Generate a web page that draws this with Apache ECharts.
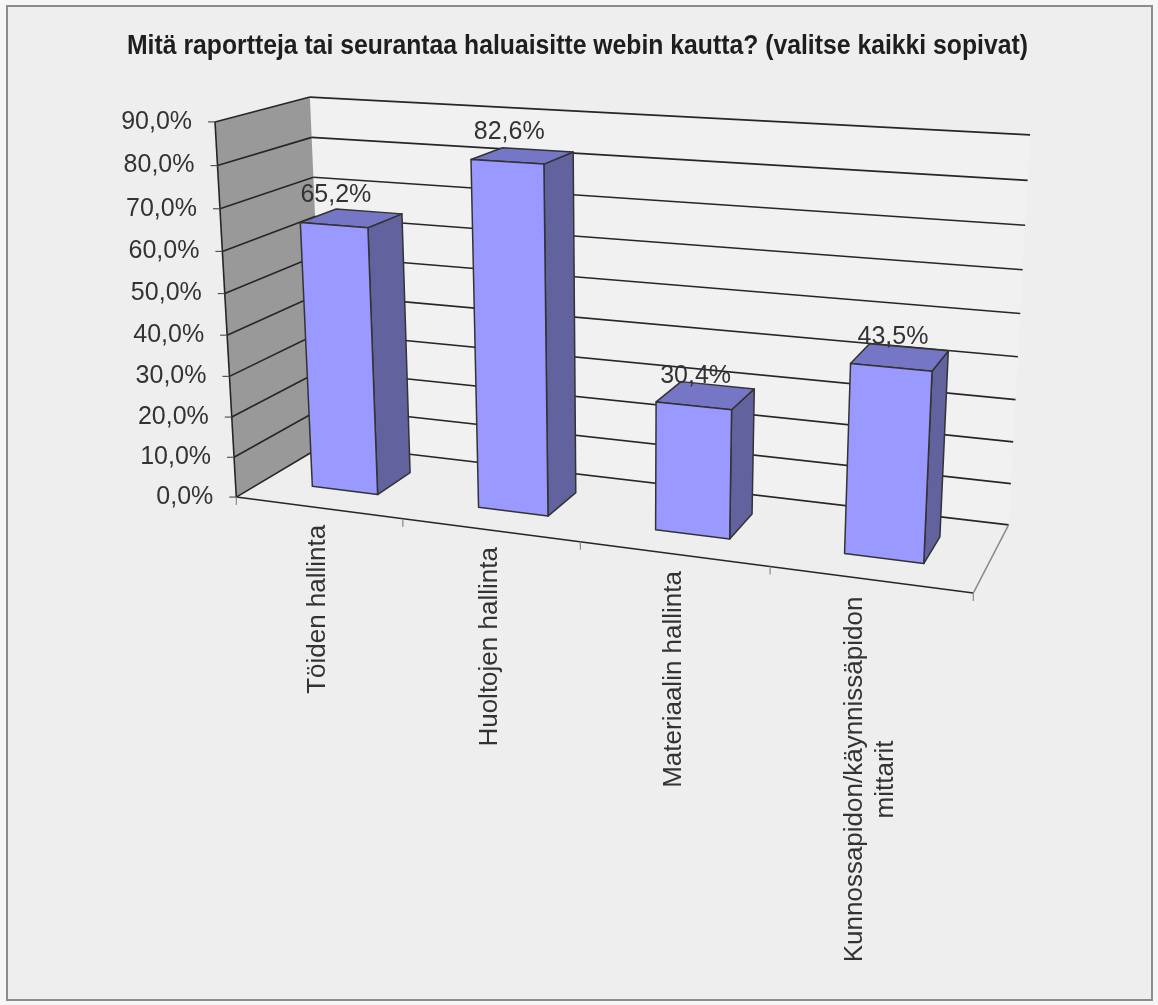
<!DOCTYPE html>
<html><head><meta charset="utf-8">
<script src="https://cdn.jsdelivr.net/npm/echarts@6/dist/echarts.min.js"></script>
<style>html,body{margin:0;padding:0;background:#f6f6f6;} #c{width:1158px;height:1005px;}</style>
</head><body><div id="c"></div>
<script>
// ---------- data ----------
const chartTitle = 'Mitä raportteja tai seurantaa haluaisitte webin kautta? (valitse kaikki sopivat)';
const categories = ['Töiden hallinta', 'Huoltojen hallinta', 'Materiaalin hallinta', 'Kunnossapidon/käynnissäpidon\nmittarit'];
const values = [65.2, 82.6, 30.4, 43.5];
const yTicks = [0, 10, 20, 30, 40, 50, 60, 70, 80, 90];
const yMin = 0, yMax = 90, yStep = 10;

// ---------- 3D view calibration (layout of the box; world X 0..1 across categories, Y 0..1 of value range, Z 0..1 front->back) ----------
const calib = [
  [0, 1, 0, 215, 122.3], [0, 5/9, 0, 224.6, 293.3], [0, 0, 0, 236, 496.7],
  [0, 1, 1, 310, 97], [0, 0, 1, 325, 444.5],
  [1, 1, 1, 1030, 134.3], [1, 8/9, 1, 1027.7, 180.3], [1, 7/9, 1, 1025, 225.7], [1, 6/9, 1, 1022.7, 270],
  [1, 2/9, 1, 1013.3, 441.7], [1, 1/9, 1, 1011, 483.3], [1, 0, 1, 1008.3, 525],
  [1, 0, 0, 973.3, 593.3],
  [0.25, 0, 0, 403.3, 518.8], [0.5, 0, 0, 580.5, 541.8], [0.75, 0, 0, 770, 566.6]
];
const BAR_W = 0.4;           // bar width as share of category
const Z_FRONT = 0.3, Z_BACK = 0.7;

function solveCamera(pts) {
  const S = 500, C = 600, n = 11;
  const M = [];
  for (let i = 0; i < n; i++) M.push(new Array(n + 1).fill(0));
  const add = (row, rhs) => {
    for (let i = 0; i < n; i++) { for (let j = 0; j < n; j++) M[i][j] += row[i] * row[j]; M[i][n] += row[i] * rhs; }
  };
  pts.forEach(([X, Y, Z, u, v]) => {
    u = (u - C) / S; v = (v - C) / S;
    add([X, Y, Z, 1, 0, 0, 0, 0, -u * X, -u * Y, -u * Z], u);
    add([0, 0, 0, 0, X, Y, Z, 1, -v * X, -v * Y, -v * Z], v);
  });
  for (let c = 0; c < n; c++) {
    let p = c;
    for (let r = c + 1; r < n; r++) if (Math.abs(M[r][c]) > Math.abs(M[p][c])) p = r;
    const tmp = M[c]; M[c] = M[p]; M[p] = tmp;
    for (let r = 0; r < n; r++) {
      if (r === c) continue;
      const f = M[r][c] / M[c][c];
      for (let k = c; k <= n; k++) M[r][k] -= f * M[c][k];
    }
  }
  const x = M.map((row, i) => row[n] / row[i]);
  return (X, Y, Z) => {
    const w = x[8] * X + x[9] * Y + x[10] * Z + 1;
    return [(x[0] * X + x[1] * Y + x[2] * Z + x[3]) / w * S + C,
            (x[4] * X + x[5] * Y + x[6] * Z + x[7]) / w * S + C];
  };
}
const P = solveCamera(calib);

const FONT = '"Liberation Sans", Arial, Helvetica, sans-serif';
const TEXT_COLOR = '#333333';
const GRID = { stroke: '#262626', lineWidth: 1.6 };
const EDGE = { stroke: '#262626', lineWidth: 1.6 };
const measureCtx = document.createElement('canvas').getContext('2d');
function textWidth(str, font) {
  measureCtx.font = font;
  return Math.max(...str.split('\n').map(s => measureCtx.measureText(s).width));
}
const fmtPct = v => v.toFixed(1).replace('.', ',') + '%';

function line(a, b, style) { return { type: 'line', silent: true, shape: { x1: a[0], y1: a[1], x2: b[0], y2: b[1] }, style: Object.assign({}, style) }; }
function poly(pts, style) { return { type: 'polygon', silent: true, shape: { points: pts }, style: Object.assign({}, style) }; }
function text(x, y, str, size, opts) {
  return Object.assign({ type: 'text', silent: true, x: x, y: y, style: Object.assign({
    text: str, x: 0, y: 0, fill: TEXT_COLOR, font: size + 'px ' + FONT,
    fontSize: size, fontFamily: FONT
  }, opts.style) }, opts.el || {});
}

function worldY(params, api, val) {
  const cs = params.coordSys;
  return (cs.y + cs.height - api.coord([0, val])[1]) / cs.height;
}
function worldXc(params, api, idx) {
  const cs = params.coordSys;
  return (api.coord([idx, yMin])[0] - cs.x) / cs.width;
}

function renderFrame(params, api) {
  const cs = params.coordSys;
  const band = api.size([1, 0])[0] / cs.width;
  const ch = [];
  // walls
  ch.push(poly([P(0, 0, 1), P(1, 0, 1), P(1, 1, 1), P(0, 1, 1)], { fill: '#F1F1F1' }));
  ch.push(poly([P(0, 0, 0), P(0, 1, 0), P(0, 1, 1), P(0, 0, 1)], { fill: '#999999' }));
  // gridlines on left and back walls
  yTicks.forEach(t => {
    const y = worldY(params, api, t);
    ch.push(line(P(0, y, 0), P(0, y, 1), GRID));
    ch.push(line(P(0, y, 1), P(1, y, 1), GRID));
  });
  // floor edges
  ch.push(line(P(0, 0, 0), P(1, 0, 0), EDGE));
  ch.push(line(P(1, 0, 0), P(1, 0, 1), { stroke: '#8a8a8a', lineWidth: 1.5 }));
  // value axis edge
  ch.push(line(P(0, 0, 0), P(0, 1, 0), EDGE));
  // value ticks & labels
  yTicks.forEach(t => {
    const q = P(0, worldY(params, api, t), 0);
    ch.push(line([q[0] - 7, q[1]], q, { stroke: '#555', lineWidth: 1.2 }));
    ch.push(text(q[0] - 23, q[1], fmtPct(t), 25, { style: { align: 'right', textAlign: 'right', verticalAlign: 'middle', textVerticalAlign: 'middle' } }));
  });
  // category ticks and labels
  categories.forEach((c, k) => {
    const xc = worldXc(params, api, k);
    const left = xc - band / 2;
    const q = P(left, 0, 0);
    ch.push(line(q, [q[0], q[1] + 8], { stroke: '#888', lineWidth: 1.2 }));
    if (k === categories.length - 1) {
      const r = P(xc + band / 2, 0, 0);
      ch.push(line(r, [r[0], r[1] + 8], { stroke: '#888', lineWidth: 1.2 }));
    }
    const a = P(xc, 0, 0);
    const w = textWidth(c, '26px ' + FONT);
    ch.push(text(a[0], a[1] + 17 + w / 2, c, 26, {
      style: { align: 'center', textAlign: 'center', verticalAlign: 'middle', textVerticalAlign: 'middle', lineHeight: 31 },
      el: { rotation: Math.PI / 2 }
    }));
  });
  return { type: 'group', children: ch };
}

function renderBar(params, api) {
  const cs = params.coordSys;
  const i = api.value(0), v = api.value(1);
  const band = api.size([1, 0])[0] / cs.width;
  const xc = worldXc(params, api, i);
  const X0 = xc - band * BAR_W / 2, X1 = xc + band * BAR_W / 2;
  const Y = (cs.y + cs.height - api.coord([i, v])[1]) / cs.height;
  const Y0 = worldY(params, api, yMin);
  const Z0 = Z_FRONT, Z1 = Z_BACK;
  const st = { stroke: '#333333', lineWidth: 1.5, lineJoin: 'round' };
  const ch = [];
  ch.push(poly([P(X1, Y0, Z0), P(X1, Y0, Z1), P(X1, Y, Z1), P(X1, Y, Z0)], Object.assign({ fill: '#62629F' }, st)));
  ch.push(poly([P(X0, Y, Z0), P(X1, Y, Z0), P(X1, Y, Z1), P(X0, Y, Z1)], Object.assign({ fill: '#7676C6' }, st)));
  ch.push(poly([P(X0, Y0, Z0), P(X1, Y0, Z0), P(X1, Y, Z0), P(X0, Y, Z0)], Object.assign({ fill: '#9999FF' }, st)));
  const ft = P(xc, Y, Z0);
  ch.push(text(ft[0] + 2, ft[1] - 30, fmtPct(v), 25, { style: { align: 'center', textAlign: 'center', verticalAlign: 'middle', textVerticalAlign: 'middle' } }));
  return { type: 'group', children: ch };
}

// title: bold, horizontally condensed to the original's narrow face
const TITLE_FONT = 'bold 27px ' + FONT;
const titleScale = 901 / textWidth(chartTitle, TITLE_FONT);

const chart = echarts.init(document.getElementById('c'), null, { renderer: 'canvas' });
chart.setOption({
  animation: false,
  backgroundColor: 'transparent',
  graphic: [
    { type: 'rect', z: -10, silent: true, shape: { x: 7, y: 6, width: 1145, height: 994 }, style: { fill: '#EEEEEE', stroke: '#8c8c8c', lineWidth: 2 } },
    { type: 'text', z: 10, silent: true, x: 577.5, y: 47, scaleX: titleScale,
      style: { text: chartTitle, font: TITLE_FONT, fill: '#1e1e1e', align: 'center', textAlign: 'center', verticalAlign: 'middle', textVerticalAlign: 'middle' } }
  ],
  grid: { left: 100, top: 100, width: 800, height: 800, show: false },
  xAxis: { type: 'category', data: categories, show: false },
  yAxis: { type: 'value', min: yMin, max: yMax, interval: yStep, show: false },
  series: [
    { type: 'custom', name: 'frame', clip: false, z: 1, silent: true, renderItem: renderFrame, data: [[0, 0]] },
    { type: 'custom', name: 'bars', clip: false, z: 2, silent: true, renderItem: renderBar,
      encode: { x: 0, y: 1 }, data: values.map((v, i) => [i, v]) }
  ]
});
</script></body></html>
